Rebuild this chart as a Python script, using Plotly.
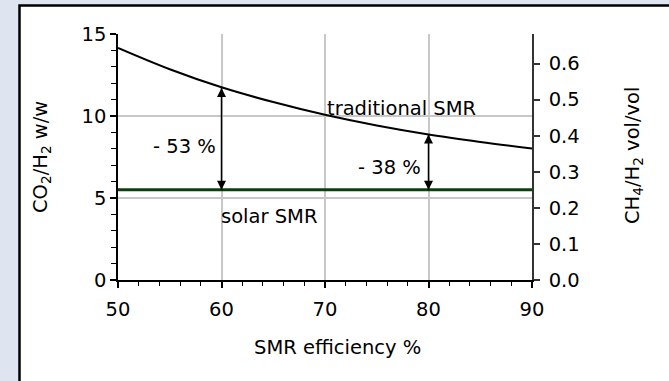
import plotly.graph_objects as go

# SMR efficiency (%) and CO2/H2 mass ratio of the conventional process
efficiency = [50, 55, 60, 65, 70, 75, 80, 85, 90]
co2_traditional = [14.15, 12.85, 11.75, 10.85, 10.07, 9.42, 8.87, 8.42, 8.02]

# solar-driven SMR: constant CO2/H2 ratio
solar_eff = [50, 90]
co2_solar = [5.5, 5.5]

# reduction markers: efficiency, top of the double arrow, label
reduction_eff = [60, 80]
reduction_top = [11.70, 8.87]
reduction_text = ["- 53 %", "- 38 %"]

# CO2/H2 w/w of 5.5 corresponds to CH4/H2 vol/vol of 0.25
y_max = 15
y2_max = y_max * 0.25 / 5.5

FONT = "DejaVu Sans, Liberation Sans, Arial, sans-serif"
FS = 19.5
W, H = 669, 381
L, R, T, B = 118, 137, 34, 101
pw, ph = W - L - R, H - T - B


def px_x(p):
    return (p - L) / pw


def px_y(p):
    return (H - B - p) / ph


def txt_font():
    return dict(size=FS, color="black", family=FONT)


fig = go.Figure()

fig.add_trace(go.Scatter(
    x=efficiency, y=co2_traditional, mode="lines",
    line=dict(color="black", width=2, shape="spline"),
    showlegend=False, hoverinfo="skip"))

fig.add_trace(go.Scatter(
    x=solar_eff, y=co2_solar, mode="lines",
    line=dict(color="#0b400e", width=3),
    showlegend=False, hoverinfo="skip"))

# double-headed arrows between the two curves
for xe, top in zip(reduction_eff, reduction_top):
    fig.add_trace(go.Scatter(
        x=[xe, xe], y=[top, co2_solar[0]], mode="lines+markers",
        line=dict(color="black", width=1.5),
        marker=dict(symbol=["arrow-up", "arrow-down"], size=9,
                    color="black", line=dict(width=0)),
        showlegend=False, hoverinfo="skip"))

# invisible trace to activate the secondary axis
fig.add_trace(go.Scatter(
    x=[50], y=[0], yaxis="y2", mode="markers",
    marker=dict(opacity=0), showlegend=False, hoverinfo="skip"))

annotations = [
    dict(x=reduction_eff[0] - 0.3, y=8.13, xref="x", yref="y",
         text=reduction_text[0], showarrow=False, xanchor="right",
         yanchor="middle", font=txt_font()),
    dict(x=reduction_eff[1] - 0.5, y=6.85, xref="x", yref="y",
         text=reduction_text[1], showarrow=False, xanchor="right",
         yanchor="middle", font=txt_font()),
    dict(x=70.0, y=10.45, xref="x", yref="y", text="traditional SMR",
         showarrow=False, xanchor="left", yanchor="middle",
         font=txt_font()),
    dict(x=59.75, y=3.85, xref="x", yref="y", text="solar SMR",
         showarrow=False, xanchor="left", yanchor="middle",
         font=txt_font()),
    dict(x=px_x(337), y=px_y(347), xref="paper", yref="paper",
         text="SMR efficiency %", showarrow=False, xanchor="center",
         yanchor="middle", font=txt_font()),
    dict(x=px_x(41), y=px_y(157), xref="paper", yref="paper",
         text="CO<sub>2</sub>/H<sub>2</sub> w/w", textangle=-90,
         showarrow=False, xanchor="center", yanchor="middle",
         font=txt_font()),
    dict(x=px_x(633), y=px_y(156), xref="paper", yref="paper",
         text="CH<sub>4</sub>/H<sub>2</sub> vol/vol", textangle=-90,
         showarrow=False, xanchor="center", yanchor="middle",
         font=txt_font()),
]

fig.update_layout(
    width=W, height=H,
    margin=dict(l=L, r=R, t=T, b=B),
    paper_bgcolor="#dfe5f0",
    plot_bgcolor="white",
    font=txt_font(),
    showlegend=False,
    annotations=annotations,
    shapes=[dict(type="rect", xref="paper", yref="paper",
                 x0=px_x(19.5), x1=px_x(700), y0=px_y(5.5), y1=px_y(420),
                 line=dict(color="black", width=2.5),
                 fillcolor="white", layer="below")],
    xaxis=dict(
        range=[50, 90], dtick=10, tick0=50,
        showline=True, linecolor="black", linewidth=1.5,
        showgrid=True, gridcolor="#c8c8c8", gridwidth=1.5,
        ticks="outside", ticklen=6, tickwidth=1.5, tickcolor="black",
        minor=dict(dtick=2, ticklen=4, tickwidth=1.2, tickcolor="black",
                   ticks="outside", showgrid=False),
        tickfont=txt_font(), ticklabelstandoff=5,
        zeroline=False, fixedrange=True),
    yaxis=dict(
        range=[0, y_max], dtick=5, tick0=0,
        showline=True, linecolor="black", linewidth=1.5,
        showgrid=True, gridcolor="#c8c8c8", gridwidth=1.5,
        ticks="outside", ticklen=6, tickwidth=1.5, tickcolor="black",
        minor=dict(dtick=1, ticklen=5, tickwidth=1.2, tickcolor="black",
                   ticks="outside", showgrid=False),
        tickfont=txt_font(), ticklabelstandoff=0, zeroline=False),
    yaxis2=dict(
        overlaying="y", side="right", range=[0, y2_max], dtick=0.1,
        tick0=0, tickformat=".1f",
        showline=True, linecolor="#333333", linewidth=1.5,
        showgrid=False, zeroline=False,
        ticks="outside", ticklen=6, tickwidth=1.5, tickcolor="#333333",
        tickfont=txt_font(), ticklabelstandoff=5),
)

fig.write_html("out.html")
